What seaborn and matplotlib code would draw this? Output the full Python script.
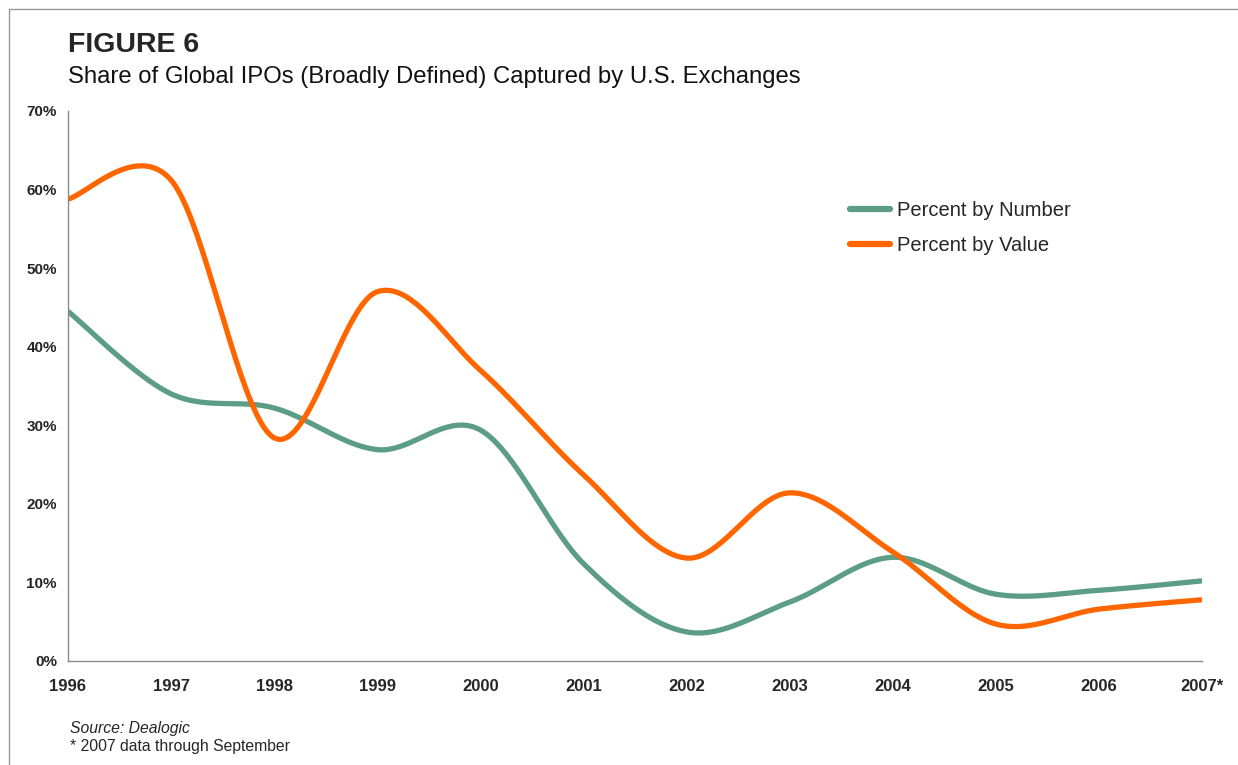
import numpy as np
import pandas as pd
import matplotlib
matplotlib.use("Agg")
import matplotlib.pyplot as plt
import seaborn as sns
from matplotlib.lines import Line2D

years = [1996, 1997, 1998, 1999, 2000, 2001, 2002, 2003, 2004, 2005, 2006, 2007]
year_labels = ["1996", "1997", "1998", "1999", "2000", "2001", "2002", "2003", "2004", "2005", "2006", "2007*"]
pct_number = [44.5, 34.0, 32.2, 26.9, 29.4, 12.4, 3.7, 7.5, 13.2, 8.5, 9.0, 10.2]
pct_value = [58.8, 61.2, 28.4, 47.0, 37.0, 23.7, 13.1, 21.4, 13.9, 4.7, 6.6, 7.8]
series_names = ["Percent by Number", "Percent by Value"]
colors = ["#5c9e85", "#ff6600"]
yticks = [0, 10, 20, 30, 40, 50, 60, 70]


def smooth(xs, ys, n=40):
    """Excel-style smoothed line (Catmull-Rom / Bezier with 1/6 control points)."""
    xs = np.asarray(xs, float)
    ys = np.asarray(ys, float)
    P = np.column_stack([xs, ys])
    out = []
    for i in range(len(P) - 1):
        p0 = P[i - 1] if i > 0 else P[i]
        p1 = P[i]
        p2 = P[i + 1]
        p3 = P[i + 2] if i + 2 < len(P) else P[i + 1]
        c1 = p1 + (p2 - p0) / 6.0
        c2 = p2 - (p3 - p1) / 6.0
        t = np.linspace(0, 1, n, endpoint=(i == len(P) - 2))[:, None]
        b = (1 - t) ** 3 * p1 + 3 * (1 - t) ** 2 * t * c1 + 3 * (1 - t) * t ** 2 * c2 + t ** 3 * p2
        out.append(b)
    arr = np.vstack(out)
    return arr[:, 0], arr[:, 1]


frames = []
for name, vals in zip(series_names, [pct_number, pct_value]):
    sx, sy = smooth(years, vals)
    frames.append(pd.DataFrame({"year": sx, "pct": sy, "series": name, "order": np.arange(len(sx))}))
df = pd.concat(frames, ignore_index=True)

sns.set_style("white")
plt.rcParams["font.family"] = ["Liberation Sans", "DejaVu Sans"]

fig = plt.figure(figsize=(12.38, 7.65), dpi=100)
ax = fig.add_axes([68 / 1238, 1 - 661 / 765, (1202 - 68) / 1238, (661 - 111) / 765])

for name, col in zip(series_names, colors):
    sub = df[df["series"] == name]
    sns.lineplot(data=sub, x="year", y="pct", color=col, linewidth=3.8, sort=False,
                 estimator=None, ax=ax, legend=False, solid_capstyle="butt")

ax.set_xlim(years[0], years[-1])
ax.set_ylim(0, 70)
ax.set_xticks(years)
ax.set_xticklabels(year_labels, fontsize=12, fontweight="bold")
ax.set_yticks(yticks)
ax.set_yticklabels([f"{v}%" for v in yticks], fontsize=11, fontweight="bold")
ax.set_xlabel("")
ax.set_ylabel("")
for s in ["top", "right"]:
    ax.spines[s].set_visible(False)
for s in ["left", "bottom"]:
    ax.spines[s].set_color("#8a8a8a")
    ax.spines[s].set_linewidth(1.0)
ax.tick_params(axis="x", direction="out", length=4, width=0.8, color="#8a8a8a", pad=9)
ax.tick_params(axis="y", length=0, pad=8)
ax.grid(False)

handles = [Line2D([0], [0], color=c, linewidth=4.5) for c in colors]
fig.legend(handles, series_names, loc="center left", bbox_to_anchor=(850 / 1238, 1 - 228 / 765),
           frameon=False, fontsize=14.5, handlelength=2.0, handletextpad=0.35,
           labelspacing=0.75, borderpad=0, borderaxespad=0)

fig.text(68 / 1238, 1 - 45 / 765, "FIGURE 6", fontsize=20.5, fontweight="bold", va="center", ha="left")
fig.text(68 / 1238, 1 - 77 / 765, "Share of Global IPOs (Broadly Defined) Captured by U.S. Exchanges",
         fontsize=17.2, va="center", ha="left", color="#111111")
fig.text(70 / 1238, 1 - 728 / 765, "Source: Dealogic", fontsize=11.3, style="italic", va="center", ha="left")
fig.text(70 / 1238, 1 - 747 / 765, "* 2007 data through September", fontsize=11.3, va="center", ha="left")

# page frame lines (top and left)
fig.add_artist(Line2D([9 / 1238, 1], [1 - 9 / 765, 1 - 9 / 765], color="#999999", linewidth=1.0,
                      transform=fig.transFigure))
fig.add_artist(Line2D([9 / 1238, 9 / 1238], [0, 1 - 9 / 765], color="#999999", linewidth=1.0,
                      transform=fig.transFigure))

fig.savefig("out.png", dpi=100)
